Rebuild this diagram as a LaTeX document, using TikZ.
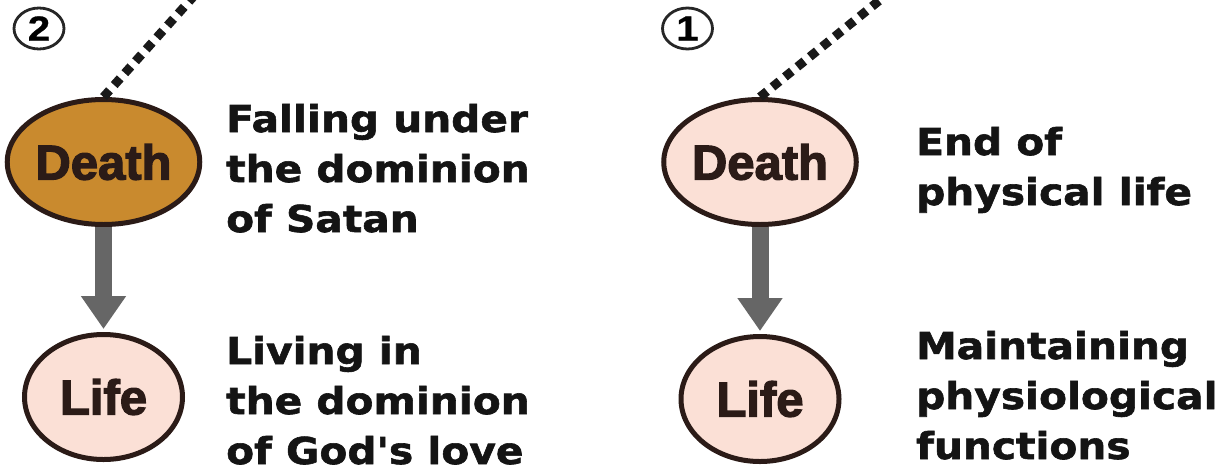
\documentclass[tikz,border=0pt]{standalone}
\usepackage{fontspec}
\usetikzlibrary{shapes.geometric,arrows.meta}
\newfontfamily\sidefont{DejaVu Sans}[FakeStretch=1.1,FakeBold=1.6]
\newfontfamily\ellfont{Liberation Sans}[FakeBold=2.6]
\newfontfamily\numfont{Liberation Sans}[FakeStretch=1.15,FakeBold=0.8]
\definecolor{rim}{HTML}{2B1B17}
\definecolor{brownfill}{HTML}{C98A2E}
\definecolor{pinkfill}{HTML}{FBE0D6}
\definecolor{arrowgray}{HTML}{666666}
\begin{document}
\begin{tikzpicture}[x=1pt,y=-1pt,
  state/.style={ellipse,draw=rim,line width=5pt,minimum width=158pt,minimum height=125pt,inner sep=0pt,
    font=\ellfont\bfseries\fontsize{49}{49}\selectfont,text=rim},
  numcirc/.style={ellipse,draw=black!85,line width=2.8pt,minimum width=50pt,minimum height=41pt,inner sep=0pt,
    font=\numfont\bfseries\fontsize{35}{35}\selectfont},
  sidetext/.style={anchor=base west,align=left,inner sep=0pt,
    font=\sidefont\bfseries\fontsize{37}{50}\selectfont,text=black!92},
  dots/.style={line width=9pt,dash pattern=on 9pt off 7pt,black!90},
  flow/.style={line width=17pt,arrowgray,-{Triangle[width=43pt,length=33pt]},shorten >=3pt}]
\useasboundingbox (0,0) rectangle (1228,467);
\clip (0,0) rectangle (1228,467);
% left column
\node[numcirc] (n2) at (39,28.5) {2};
\node[state,fill=brownfill] (d2) at (103.5,162) {Death};
\node[state,fill=pinkfill] (l2) at (103.5,397) {Life};
\coordinate (e2) at (202,-13);
\draw[dots] (d2.north) -- (e2);
\draw[flow] (d2.south) -- (l2.north);
\node[sidetext] (t2a) at (226,232) {Falling under\\the dominion\\of Satan};
\node[sidetext] (t2b) at (226,464) {Living in\\the dominion\\of God's love};
% right column
\node[numcirc] (n1) at (687.5,28.5) {1};
\node[state,fill=pinkfill] (d1) at (760,162) {Death};
\node[state,fill=pinkfill] (l1) at (760,399) {Life};
\coordinate (e1) at (896,-13);
\draw[dots] (d1.north) -- (e1);
\draw[flow] (d1.south) -- (l1.north);
\node[sidetext] (t1a) at (916,205) {End of\\physical life};
\node[sidetext] (t1b) at (916,459) {Maintaining\\physiological\\functions};
\end{tikzpicture}
\end{document}
